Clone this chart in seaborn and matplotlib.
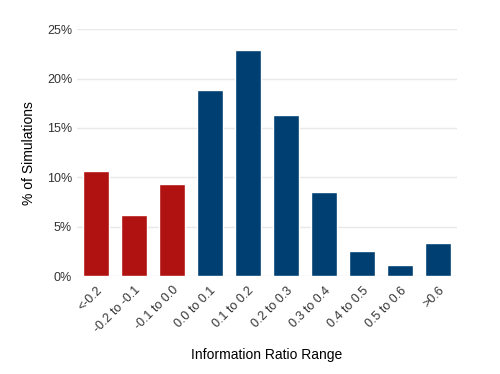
import matplotlib
matplotlib.use("Agg")
import matplotlib.pyplot as plt
import seaborn as sns
import pandas as pd
from matplotlib.ticker import PercentFormatter

# Daten
ranges = ['<-0.2', '-0.2 to -0.1', '-0.1 to 0.0', '0.0 to 0.1', '0.1 to 0.2',
          '0.2 to 0.3', '0.3 to 0.4', '0.4 to 0.5', '0.5 to 0.6', '>0.6']
pct = [10.6, 6.2, 9.3, 18.8, 22.9, 16.3, 8.5, 2.5, 1.1, 3.3]
group = ['neg', 'neg', 'neg', 'pos', 'pos', 'pos', 'pos', 'pos', 'pos', 'pos']

df = pd.DataFrame({'range': ranges, 'pct': pct, 'group': group})

sns.set_style('white')
plt.rcParams['font.family'] = ['Liberation Sans', 'DejaVu Sans']

fig = plt.figure(figsize=(5, 3.74), dpi=100)
ax = fig.add_axes([0.154, 0.262, 0.76, 0.66])

sns.barplot(data=df, x='range', y='pct', hue='group',
            palette={'neg': '#B01111', 'pos': '#003F72'}, saturation=1,
            dodge=False, width=0.7, legend=False, ax=ax, zorder=3)

ax.set_ylim(0, 25)
ax.set_xlim(-0.5, 9.5)
ax.set_yticks([0, 5, 10, 15, 20, 25])
ax.yaxis.set_major_formatter(PercentFormatter(decimals=0))
ax.grid(axis='y', color='#E8E8E8', linewidth=1, zorder=0)
sns.despine(ax=ax, left=True, bottom=True)
ax.tick_params(axis='both', length=0, labelsize=9, colors='#333333')
plt.setp(ax.get_xticklabels(), rotation=45, ha='right', rotation_mode='anchor')
ax.tick_params(axis='x', pad=6)
ax.set_xlabel('Information Ratio Range', fontsize=10, color='black')
ax.xaxis.set_label_coords(0.5, -0.29)
ax.set_ylabel('% of Simulations', fontsize=10, labelpad=8, color='black')

fig.savefig('out.png', dpi=100)
